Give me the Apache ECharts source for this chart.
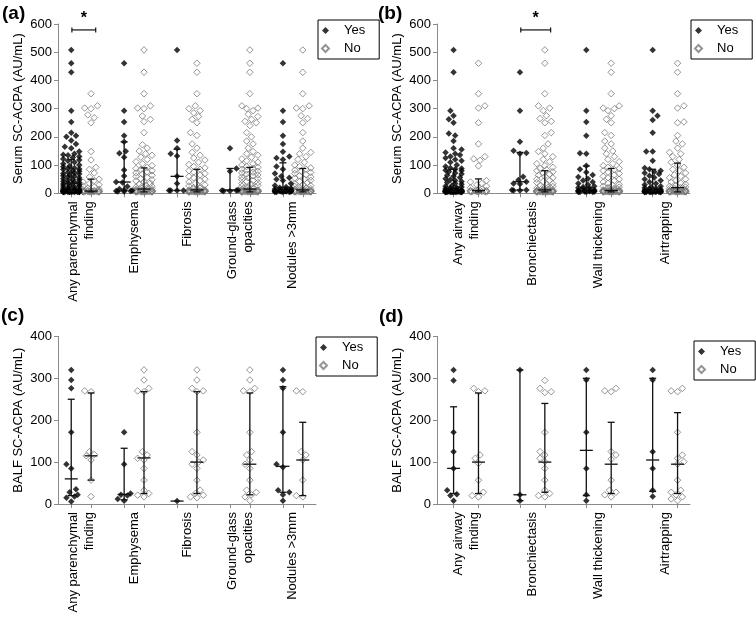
<!DOCTYPE html>
<html><head><meta charset="utf-8">
<script src="https://cdn.jsdelivr.net/npm/echarts@6/dist/echarts.min.js"></script>
<style>html,body{margin:0;padding:0;background:#fff}#c{width:756px;height:618px}</style>
</head><body><div id="c"></div>
<script>
// ---------- categories ----------
const parenchymalCats = ['Any parenchymal\nfinding', 'Emphysema', 'Fibrosis', 'Ground-glass\nopacities', 'Nodules >3mm'];
const airwayCats = ['Any airway\nfinding', 'Bronchiectasis', 'Wall thickening', 'Airtrapping'];
const legendNames = ['Yes', 'No'];
const serumMax = 600, balfMax = 400, yInterval = 100;

// ---------- (a) Serum, parenchymal ----------
const serumParYes = [
  [508,461,429,293,253,215,204,200,187,175,165,160,148,140,137,135,130,127,122,118,115,110,105,100,97,94,90,88,86,84,80,78,75,72,70,68,65,62,60,58,55,52,50,48,45,42,40,38,36,35,33,30,28,26,25,22,20,18,16,15,14,12,12,10,10,10,9,9,8,8,8,8,7,7,7,6,6,6,6,5,5,5,5,5,5,5,5,5,5],
  [461,293,253,204,183,149,142,128,83,61,40,38,24,15,12,10,8,8,6,6],
  [508,187,160,140,132,60,35,10,10,10,10],
  [160,88,78,12,10,10,8,8],
  [461,293,253,204,175,147,130,125,120,95,85,70,60,55,50,45,35,28,22,20,18,15,14,12,12,10,10,10,9,8,8,8,7,7,6,6,6,5,5,5,5]
];
const serumParNo = [
  [353,310,302,300,278,268,250,148,118,92,85,72,58,50,45,40,35,30,26,22,18,15,12,10,10,9,8,8,7,7,6,6,6,5,5,5,5,5,5,5,5,5],
  [508,429,353,310,302,300,274,262,254,215,172,160,150,140,135,128,120,112,105,98,92,88,85,80,76,72,68,64,60,56,52,48,44,40,36,32,28,25,22,20,18,16,14,12,12,10,10,10,9,9,8,8,8,7,7,7,6,6,6,6,5,5,5,5,5,5,5,5,5,5],
  [461,429,353,310,300,293,285,272,262,250,215,205,175,160,145,135,125,118,110,102,95,90,85,80,75,70,65,60,55,50,45,40,35,30,26,22,20,18,15,12,12,10,10,10,9,9,8,8,8,7,7,7,6,6,6,6,5,5,5,5,5,5,5,5,5,5,5,5],
  [508,461,429,353,310,302,300,293,280,272,262,255,250,240,215,200,185,175,160,148,140,135,128,122,115,110,105,100,95,92,88,85,82,78,75,72,68,65,62,58,55,52,48,45,42,38,35,32,28,25,22,20,18,16,14,12,12,10,10,10,9,9,8,8,8,8,7,7,7,7,6,6,6,6,6,5,5,5,5,5,5,5,5,5,5,5,5],
  [508,429,353,310,302,300,275,265,250,215,185,160,145,140,130,120,110,100,95,90,86,82,78,74,70,66,62,58,54,50,46,42,38,34,30,27,24,21,18,16,14,12,12,10,10,10,9,9,8,8,8,7,7,7,6,6,6,6,5,5,5,5,5,5,5,5,5,5]
];
// [q1, median, q3]
const serumParYesIQR = [[8,35,120],[10,40,182],[10,60,156],[10,12,88],[10,21,108]];
const serumParNoIQR  = [[5,8,50],[5,15,90],[5,12,85],[5,15,92],[5,12,88]];
const serumParSig = [[0, 579, '*']]; // [group, level, label]

// ---------- (b) Serum, airway ----------
const serumAirYes = [
  [508,429,293,275,262,250,212,205,185,160,155,145,140,136,130,125,120,115,110,100,95,90,88,85,82,80,76,72,68,64,60,56,52,48,45,42,38,35,32,28,25,22,20,18,16,15,14,12,12,10,10,10,9,9,8,8,8,8,7,7,7,6,6,6,6,6,6,5,5,5,5,5,5,5,5,5,5,5,5,5],
  [429,293,183,151,143,140,59,47,41,35,33,12,12,10,10],
  [508,293,253,204,142,140,98,85,75,65,58,52,45,40,35,30,25,22,20,18,15,12,10,10,9,8,8,7,6,6,5,5,5,5],
  [508,293,275,260,215,148,148,115,90,85,80,76,72,68,62,56,50,45,40,35,30,25,22,20,18,16,14,12,10,10,9,8,8,7,7,6,6,5,5,5,5,5,5,5,5,5,5]
];
const serumAirNo = [
  [461,353,310,302,250,175,130,122,117,97,45,40,35,30,25,20,15,12,10,10,10,8,8,8,6,6,5,5,5,5,5],
  [508,461,353,310,302,293,275,265,255,250,215,205,175,160,148,140,130,120,112,105,98,92,88,84,80,76,72,68,64,60,55,50,46,42,38,34,30,27,24,21,18,16,14,12,12,10,10,10,9,9,8,8,8,8,7,7,7,7,6,6,6,6,6,5,5,5,5,5,5,5,5,5,5,5,5,5,5],
  [461,429,353,310,302,300,293,275,262,250,215,205,185,175,160,150,140,130,120,112,105,98,92,88,84,80,75,70,65,60,55,50,45,40,36,32,28,25,22,20,18,16,14,12,12,10,10,10,9,9,8,8,8,8,7,7,7,7,6,6,6,6,6,5,5,5,5,5,5,5,5,5,5,5,5,5],
  [461,429,353,310,302,253,250,205,185,175,160,145,140,130,120,110,100,92,85,80,72,65,60,55,50,45,40,36,32,28,25,22,20,18,16,14,12,12,10,10,10,9,9,8,8,8,7,7,7,6,6,6,6,5,5,5,5,5,5,5,5,5]
];
const serumAirYesIQR = [[8,22,85],[12,41,145],[8,20,97],[8,18,85]];
const serumAirNoIQR  = [[5,10,51],[5,12,80],[5,10,88],[5,20,107]];
const serumAirSig = [[1, 579, '*']];

// ---------- (c) BALF, parenchymal ----------
const balfParYes = [
  [320,296,276,171,95,85,35,28,22,18,15,6],
  [171,95,25,22,20,12,8],
  [7],
  [],
  [320,296,276,171,95,88,33,28,22,8]
];
const balfParNo = [
  [270,268,125,118,115,105,57,18],
  [320,296,276,270,268,125,117,109,105,85,57,33,25,21,17],
  [320,296,276,270,268,171,125,117,105,100,95,85,57,33,25,21,17,15],
  [320,296,276,270,268,171,125,117,105,95,85,57,33,28,22,17,8],
  [270,268,125,117,105,57,20,17]
];
const balfParYesIQR = [[20,60,250],[10,23,133],[7,7,7],null,[28,90,280]];
const balfParNoIQR  = [[57,115,265],[25,110,268],[25,100,268],[22,95,265],[20,105,195]];

// ---------- (d) BALF, airway ----------
const balfAirYes = [
  [320,295,171,125,85,33,23,20,8],
  [320,22,8],
  [320,296,171,85,22,8],
  [320,296,125,85,33,18]
];
const balfAirNo = [
  [276,270,268,117,109,97,57,28,20,17],
  [295,276,268,266,171,125,117,109,101,85,57,33,25,20,17],
  [276,270,268,125,117,107,57,33,28,22,17],
  [276,270,268,171,117,109,101,95,57,33,28,22,17,12,8]
];
const balfAirYesIQR = [[25,85,232],[8,22,320],[20,128,300],[30,105,300]];
const balfAirNoIQR  = [[25,100,265],[28,100,240],[25,95,195],[25,95,218]];

// ---------- layout ----------
const FONT = '"Liberation Sans", Arial, Helvetica, sans-serif';
const LEAD = 4, PAIR_STEP = 16, IN_PAIR = 6;
function pos(p, m) { return LEAD + PAIR_STEP * p + IN_PAIR * m; }

const panels = [
  { letter: 'a', grid: { left: 58, top: 24, width: 258, height: 169.3 }, units: 78, cats: parenchymalCats,
    yMax: serumMax, yName: 'Serum SC-ACPA (AU/mL)', yes: serumParYes, no: serumParNo, yesIQR: serumParYesIQR, noIQR: serumParNoIQR,
    sig: serumParSig, sym: 6.5, spread: 8, title: { left: 2, top: 4 }, legend: { left: 318, top: 20 } },
  { letter: 'b', grid: { left: 437, top: 24, width: 253, height: 169.3 }, units: 61, cats: airwayCats,
    yMax: serumMax, yName: 'Serum SC-ACPA (AU/mL)', yes: serumAirYes, no: serumAirNo, yesIQR: serumAirYesIQR, noIQR: serumAirNoIQR,
    sig: serumAirSig, sym: 6.5, spread: 8.5, title: { left: 378, top: 4 }, legend: { left: 691, top: 20 } },
  { letter: 'c', grid: { left: 58, top: 336.4, width: 258, height: 167.6 }, units: 78, cats: parenchymalCats,
    yMax: balfMax, yName: 'BALF SC-ACPA (AU/mL)', yes: balfParYes, no: balfParNo, yesIQR: balfParYesIQR, noIQR: balfParNoIQR,
    sig: [], sym: 6.5, spread: 7, title: { left: 1, top: 306 }, legend: { left: 316, top: 337 } },
  { letter: 'd', grid: { left: 437, top: 336.4, width: 253, height: 167.6 }, units: 61, cats: airwayCats,
    yMax: balfMax, yName: 'BALF SC-ACPA (AU/mL)', yes: balfAirYes, no: balfAirNo, yesIQR: balfAirYesIQR, noIQR: balfAirNoIQR,
    sig: [], sym: 6.5, spread: 7, title: { left: 379, top: 307 }, legend: { left: 694, top: 341 } }
];

// beeswarm-style horizontal spreading (layout only)
function swarm(values, center, pxU, pxV, size, maxPx) {
  const placed = [], out = [];
  const sorted = values.slice().sort((a, b) => a - b);
  const cands = [0];
  const step = 1.6;
  let flip = 1;
  for (let d = step; d <= maxPx + 1e-6; d += step) cands.push(d, -d);
  const minD = size * 0.9;
  sorted.forEach((v, idx) => {
    const y = v * pxV;
    let best = 0, bestScore = Infinity;
    const order = (idx % 2 === 0) ? cands : cands.map(c => -c);
    for (const dx of order) {
      let score = 0;
      for (const p of placed) {
        const dd = Math.hypot(p[0] - dx, p[1] - y);
        if (dd < minD) score += (minD - dd);
      }
      if (score === 0) { best = dx; break; }
      if (score < bestScore - 1e-9) { bestScore = score; best = dx; }
    }
    placed.push([best, y]);
    out.push([center + best / pxU, v]);
  });
  return out;
}

const option = {
  animation: false,
  backgroundColor: '#fff',
  textStyle: { fontFamily: FONT },
  title: [], grid: [], xAxis: [], yAxis: [], legend: [], series: []
};

panels.forEach((P, gi) => {
  option.grid.push(Object.assign({ containLabel: false }, P.grid));
  option.title.push({
    text: '{p|(}{l|' + P.letter + '}{p|)}', left: P.title.left, top: P.title.top, padding: 0,
    textStyle: { rich: { p: { fontSize: 19, fontFamily: FONT, color: '#000' }, l: { fontSize: 19, fontWeight: 'bold', fontFamily: FONT, color: '#000' } } }
  });
  const catData = [];
  const tickIdx = new Set();
  for (let i = 0; i <= P.units; i++) catData.push('');
  P.cats.forEach((c, p) => {
    catData[pos(p, 0) + IN_PAIR / 2] = c;
    tickIdx.add(pos(p, 0)); tickIdx.add(pos(p, 1));
  });
  option.xAxis.push({
    type: 'category', gridIndex: gi, data: catData, boundaryGap: false, position: 'bottom',
    axisLine: { lineStyle: { color: '#8a8a8a', width: 1 } },
    axisTick: { length: 4, lineStyle: { color: '#8a8a8a' }, interval: (i) => tickIdx.has(i) },
    axisLabel: { interval: (i, v) => v !== '', rotate: 90, margin: 8, fontSize: 13, color: '#000', fontFamily: FONT, lineHeight: 16 },
    splitLine: { show: false }
  });
  const valAxisIndex = option.xAxis.length;
  option.xAxis.push({ type: 'value', gridIndex: gi, min: 0, max: P.units, show: false, splitLine: { show: false } });
  const yIdx = option.yAxis.length;
  option.yAxis.push({
    type: 'value', gridIndex: gi, min: 0, max: P.yMax, interval: yInterval,
    name: P.yName, nameLocation: 'middle', nameGap: 33,
    nameTextStyle: { fontSize: 13, color: '#000', fontFamily: FONT },
    axisLine: { show: true, lineStyle: { color: '#8a8a8a' } },
    axisTick: { show: true, length: 4, lineStyle: { color: '#8a8a8a' } },
    axisLabel: { fontSize: 13, color: '#000', margin: 6, fontFamily: FONT },
    splitLine: { show: false }
  });

  const pxU = P.grid.width / P.units, pxV = P.grid.height / P.yMax;
  const yesPts = [], noPts = [];
  P.yes.forEach((vals, p) => { yesPts.push(...swarm(vals, pos(p, 0), pxU, pxV, P.sym, P.spread)); });
  P.no.forEach((vals, p) => { noPts.push(...swarm(vals, pos(p, 1), pxU, pxV, P.sym, P.spread)); });

  option.series.push({
    name: 'Yes', type: 'scatter', xAxisIndex: valAxisIndex, yAxisIndex: yIdx, data: yesPts,
    symbol: 'diamond', symbolSize: P.sym, itemStyle: { color: '#000' }, z: 3, silent: true
  });
  option.series.push({
    name: 'No', type: 'scatter', xAxisIndex: valAxisIndex, yAxisIndex: yIdx, data: noPts,
    symbol: 'diamond', symbolSize: P.sym, itemStyle: { color: 'rgba(255,255,255,0)', borderColor: '#7a7a7a', borderWidth: 1 }, z: 2, silent: true
  });

  const bars = [];
  P.yesIQR.forEach((q, p) => { if (q) bars.push([pos(p, 0), q[0], q[1], q[2]]); });
  P.noIQR.forEach((q, p) => { if (q) bars.push([pos(p, 1), q[0], q[1], q[2]]); });
  option.series.push({
    type: 'custom', xAxisIndex: valAxisIndex, yAxisIndex: yIdx, data: bars, z: 5, silent: true,
    renderItem: (params, api) => {
      const x = api.value(0);
      const lo = api.coord([x, api.value(1)]), md = api.coord([x, api.value(2)]), hi = api.coord([x, api.value(3)]);
      const st = { stroke: '#111', lineWidth: 1.3 };
      const ch = [];
      if (hi[1] < lo[1] - 0.5) {
        ch.push({ type: 'line', shape: { x1: lo[0], y1: lo[1], x2: hi[0], y2: hi[1] }, style: st });
        ch.push({ type: 'line', shape: { x1: lo[0] - 3.5, y1: lo[1], x2: lo[0] + 3.5, y2: lo[1] }, style: st });
        ch.push({ type: 'line', shape: { x1: hi[0] - 3.5, y1: hi[1], x2: hi[0] + 3.5, y2: hi[1] }, style: st });
      }
      ch.push({ type: 'line', shape: { x1: md[0] - 6.5, y1: md[1], x2: md[0] + 6.5, y2: md[1] }, style: st });
      return { type: 'group', children: ch };
    }
  });

  if (P.sig.length) {
    const sigData = P.sig.map(s => [pos(s[0], 0) + 0.2, pos(s[0], 1) + 1.4, s[1], s[2]]);
    option.series.push({
      type: 'custom', xAxisIndex: valAxisIndex, yAxisIndex: yIdx, data: sigData, z: 6, silent: true, clip: false,
      renderItem: (params, api) => {
        const a = api.coord([api.value(0), api.value(2)]), b = api.coord([api.value(1), api.value(2)]);
        const st = { stroke: '#111', lineWidth: 1.2 };
        return { type: 'group', children: [
          { type: 'line', shape: { x1: a[0], y1: a[1], x2: b[0], y2: b[1] }, style: st },
          { type: 'line', shape: { x1: a[0], y1: a[1] - 2.5, x2: a[0], y2: a[1] + 2.5 }, style: st },
          { type: 'line', shape: { x1: b[0], y1: b[1] - 2.5, x2: b[0], y2: b[1] + 2.5 }, style: st },
          { type: 'text', style: { text: sigData[params.dataIndex][3], x: (a[0] + b[0]) / 2, y: a[1] - 3, align: 'center', verticalAlign: 'bottom', font: 'bold 16px ' + FONT, fill: '#000' } }
        ] };
      }
    });
  }

  option.legend.push({
    data: legendNames, left: P.legend.left, top: P.legend.top, orient: 'vertical',
    borderColor: '#000', borderWidth: 1, padding: [3, 14, 3, 3], itemGap: 3,
    itemWidth: 7, itemHeight: 7, selectedMode: false,
    textStyle: { fontSize: 13, color: '#000', fontFamily: FONT, padding: [0, 0, 0, 10], lineHeight: 15 }
  });
});

const chart = echarts.init(document.getElementById('c'), null, { renderer: 'canvas' });
chart.setOption(option);
</script>
</body></html>
